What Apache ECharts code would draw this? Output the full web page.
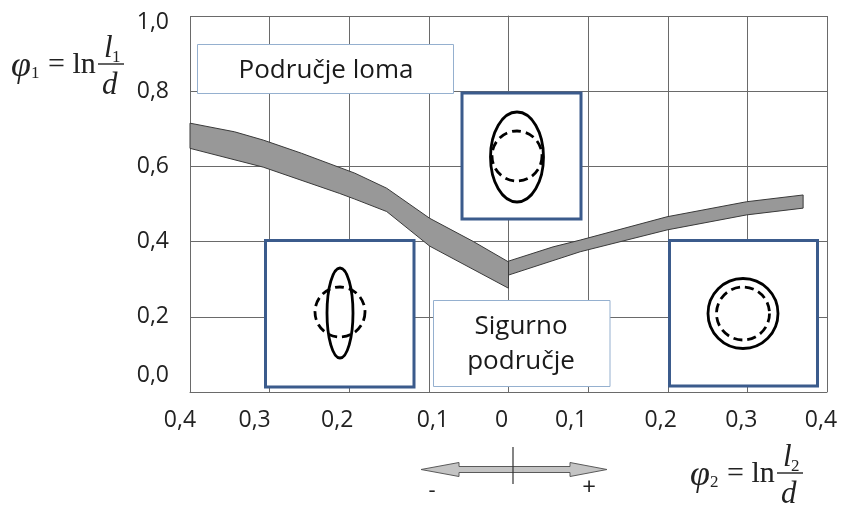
<!DOCTYPE html>
<html>
<head>
<meta charset="utf-8">
<script src="https://cdn.jsdelivr.net/npm/echarts@6/dist/echarts.min.js"></script>
<style>
  html, body { margin: 0; padding: 0; background: #fff; }
  #main { width: 848px; height: 510px; }
</style>
</head>
<body>
<div id="main"></div>
<script>
// gornja / donja granica pojasa, lijevo od nule (phi2 < 0)
var leftUpperX = [-0.400, -0.344, -0.308, -0.260, -0.193, -0.153, -0.099, -0.044, 0.000];
var leftUpperY = [0.715, 0.692, 0.670, 0.635, 0.582, 0.542, 0.462, 0.400, 0.346];
var leftLowerX = [-0.400, -0.308, -0.212, -0.193, -0.153, -0.099, 0.000];
var leftLowerY = [0.648, 0.598, 0.528, 0.513, 0.480, 0.388, 0.276];
// desno od nule (phi2 > 0)
var rightUpperX = [0.000, 0.056, 0.090, 0.199, 0.299, 0.370];
var rightUpperY = [0.348, 0.386, 0.404, 0.466, 0.506, 0.524];
var rightLowerX = [0.000, 0.090, 0.199, 0.299, 0.370];
var rightLowerY = [0.311, 0.373, 0.431, 0.471, 0.489];

var xMin = -0.4, xMax = 0.4, xStep = 0.1;
var yMin = 0, yMax = 1.0, yStep = 0.2;

var boxTopText = 'Područje loma';
var boxSafeText = ['Sigurno', 'područje'];

var labelFont = '"Open Sans", "DejaVu Sans", sans-serif';
var mathFont = '"Liberation Serif", "DejaVu Serif", serif';
var gridColor = '#6a6a6a';
var frameBlue = '#3b5b8c';
var thinBlue = '#95b0cf';

// x labels in the picture sit a bit off their gridlines
var xNudge = [-10, -15, -12, 4, -7, -17, -7, -6, -6];
var xRich = {};
for (var i = 0; i < xNudge.length; i++) {
  var d = xNudge[i];
  xRich['n' + i] = {
    fontSize: 23, fontFamily: labelFont, color: '#222',
    padding: d < 0 ? [0, -2 * d, 0, 0] : [0, 0, 0, 2 * d]
  };
}

function comma(v) {
  return v.toFixed(1).replace('.', ',');
}

function bandSeries(upX, upY, loX, loY) {
  var pts = [];
  for (var i = 0; i < upX.length; i++) pts.push([upX[i], upY[i]]);
  for (var j = loX.length - 1; j >= 0; j--) pts.push([loX[j], loY[j]]);
  return {
    type: 'custom',
    coordinateSystem: 'cartesian2d',
    data: pts,
    encode: { x: 0, y: 1 },
    silent: true,
    clip: false,
    z: 5,
    renderItem: function (params, api) {
      if (params.dataIndex !== 0) return;
      var poly = pts.map(function (p) { return api.coord(p); });
      return {
        type: 'polygon',
        shape: { points: poly },
        style: { fill: '#989898', stroke: '#3a3a3a', lineWidth: 1 }
      };
    }
  };
}

function formula(x0, y0, sub, s) {
  // phi_n = ln l_n / d ; y0 = visina razlomacke crte
  var col = '#222';
  function f(px, italic) {
    return (italic ? 'italic ' : '') + Math.round(px * s) + 'px ' + mathFont;
  }
  return [
    { type: 'text', x: x0, y: y0 + 3 * s, z: 120,
      style: { text: 'φ', font: f(36, true), fill: col, textVerticalAlign: 'middle' } },
    { type: 'text', x: x0 + 20 * s, y: y0 + 10 * s, z: 120,
      style: { text: sub, font: f(17), fill: col, textVerticalAlign: 'middle' } },
    { type: 'text', x: x0 + 37 * s, y: y0 + 1 * s, z: 120,
      style: { text: '= ln', font: f(30), fill: col, textVerticalAlign: 'middle' } },
    { type: 'text', x: x0 + 93 * s, y: y0 - 15 * s, z: 120,
      style: { text: 'l', font: f(31, true), fill: col, textVerticalAlign: 'middle' } },
    { type: 'text', x: x0 + 101 * s, y: y0 - 6 * s, z: 120,
      style: { text: sub, font: f(17), fill: col, textVerticalAlign: 'middle' } },
    { type: 'line', z: 120,
      shape: { x1: x0 + 87 * s, y1: y0, x2: x0 + 113 * s, y2: y0 },
      style: { stroke: col, lineWidth: 1.4 } },
    { type: 'text', x: x0 + 91 * s, y: y0 + 22 * s, z: 120,
      style: { text: 'd', font: f(31, true), fill: col, textVerticalAlign: 'middle' } }
  ];
}

function frame(x, y, w, h, thick) {
  return {
    type: 'rect', z: 100,
    shape: { x: x, y: y, width: w, height: h },
    style: thick
      ? { fill: '#fff', stroke: frameBlue, lineWidth: 3 }
      : { fill: '#fff', stroke: thinBlue, lineWidth: 1 }
  };
}

function solidEllipse(cx, cy, rx, ry) {
  return { type: 'ellipse', z: 110, shape: { cx: cx, cy: cy, rx: rx, ry: ry },
    style: { fill: 'none', stroke: '#000', lineWidth: 2.8 } };
}
function dashedCircle(cx, cy, r) {
  return { type: 'circle', z: 111, shape: { cx: cx, cy: cy, r: r },
    style: { fill: 'none', stroke: '#000', lineWidth: 2.8, lineDash: [9, 5] } };
}

var elements = [];
// okviri
elements.push(frame(197.5, 44.5, 256, 49, false));
elements.push({ type: 'text', x: 326, y: 71, z: 120,
  style: { text: boxTopText, font: '26px ' + labelFont, fill: '#1a1a1a', textAlign: 'center', textVerticalAlign: 'middle' } });

elements.push(frame(462, 93, 119, 126, true));
elements.push(solidEllipse(517, 157, 26.5, 45));
elements.push(dashedCircle(517, 156, 25));

elements.push(frame(265.5, 240.5, 148.5, 146.5, true));
elements.push(solidEllipse(340, 313, 13, 45));
elements.push(dashedCircle(340, 312, 25));

elements.push(frame(433.5, 300.5, 176.5, 86, false));
elements.push({ type: 'text', x: 521, y: 327, z: 120,
  style: { text: boxSafeText[0], font: '26px ' + labelFont, fill: '#1a1a1a', textAlign: 'center', textVerticalAlign: 'middle' } });
elements.push({ type: 'text', x: 521, y: 362, z: 120,
  style: { text: boxSafeText[1], font: '26px ' + labelFont, fill: '#1a1a1a', textAlign: 'center', textVerticalAlign: 'middle' } });

elements.push(frame(669.5, 240.5, 148, 145.5, true));
elements.push(solidEllipse(743, 313.5, 35, 35));
elements.push(dashedCircle(743, 313.5, 26.5));

// strelica ispod osi
elements.push({ type: 'polygon', z: 100,
  shape: { points: [[421, 469.5], [459, 462.5], [459, 466.5], [570, 466.5], [570, 462.5],
    [607, 469.5], [570, 476.5], [570, 472.5], [459, 472.5], [459, 476.5]] },
  style: { fill: '#c4c4c4', stroke: '#5a5a5a', lineWidth: 1 } });
elements.push({ type: 'line', z: 101, shape: { x1: 513, y1: 447, x2: 513, y2: 484 },
  style: { stroke: '#333', lineWidth: 1.2 } });
elements.push({ type: 'text', x: 432, y: 491, z: 120,
  style: { text: '-', font: '22px ' + labelFont, fill: '#222', textAlign: 'center', textVerticalAlign: 'middle' } });
elements.push({ type: 'text', x: 589, y: 488, z: 120,
  style: { text: '+', font: '24px ' + labelFont, fill: '#222', textAlign: 'center', textVerticalAlign: 'middle' } });

elements = elements.concat(formula(11, 64, '1', 1));
elements = elements.concat(formula(690, 473, '2', 1.0));

var chart = echarts.init(document.getElementById('main'), null, { renderer: 'canvas' });

chart.setOption({
  backgroundColor: '#fff',
  animation: false,
  grid: { left: 190, right: 21, top: 16, bottom: 118, containLabel: false },
  xAxis: {
    type: 'value',
    min: xMin, max: xMax, interval: xStep,
    axisLine: { show: true, lineStyle: { color: gridColor, width: 1 } },
    axisTick: { show: false },
    splitLine: { show: true, lineStyle: { color: gridColor, width: 1 } },
    axisLabel: {
      margin: 17,
      fontSize: 23, fontFamily: labelFont, color: '#222',
      rich: xRich,
      formatter: function (v) {
        var i = Math.round(v * 10) + 4;
        var t = Math.abs(v) < 1e-9 ? '0' : comma(Math.abs(v));
        return '{n' + i + '|' + t + '}';
      }
    }
  },
  yAxis: {
    type: 'value',
    min: yMin, max: yMax, interval: yStep,
    axisLine: { show: true, lineStyle: { color: gridColor, width: 1 } },
    axisTick: { show: false },
    splitLine: { show: true, lineStyle: { color: gridColor, width: 1 } },
    axisLabel: {
      margin: 21,
      fontSize: 23, fontFamily: labelFont, color: '#222',
      rich: {
        top: { fontSize: 23, fontFamily: labelFont, color: '#222', padding: [12, 0, 0, 0] },
        bot: { fontSize: 23, fontFamily: labelFont, color: '#222', padding: [0, 0, 34, 0] },
        n: { fontSize: 23, fontFamily: labelFont, color: '#222' }
      },
      formatter: function (v) {
        if (v < 1e-9) return '{bot|' + comma(v) + '}';
        if (v > 0.999) return '{top|' + comma(v) + '}';
        return '{n|' + comma(v) + '}';
      }
    }
  },
  series: [
    bandSeries(leftUpperX, leftUpperY, leftLowerX, leftLowerY),
    bandSeries(rightUpperX, rightUpperY, rightLowerX, rightLowerY)
  ],
  graphic: { elements: elements }
});

window.onresize = function () {
  chart.resize();
};
</script>
</body>
</html>
